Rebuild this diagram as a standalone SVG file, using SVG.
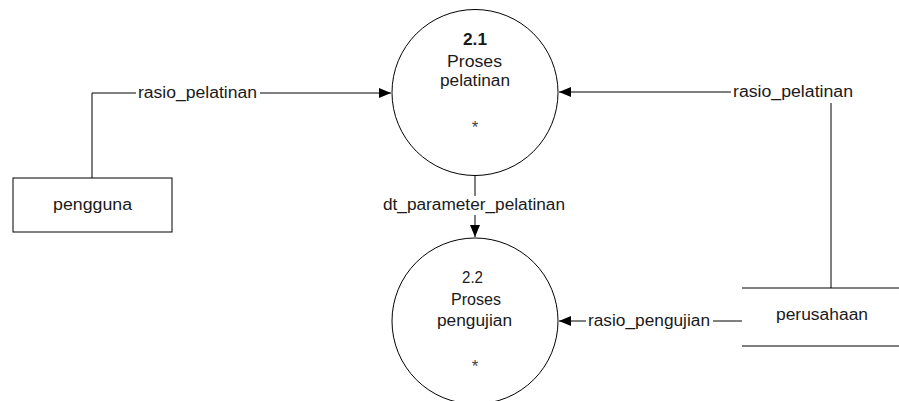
<svg xmlns="http://www.w3.org/2000/svg" width="899" height="401" viewBox="0 0 899 401">
  <style>
    .shape { fill: #ffffff; stroke: #000000; stroke-width: 1; }
    .line { fill: none; stroke: #000000; stroke-width: 1; }
    .lbl-bg { fill: #ffffff; stroke: none; }
    text { font-family: "Liberation Sans", Arial, sans-serif; font-size: 16px; fill: #1a1a1a; text-anchor: middle; }
    .star { fill: #444444; font-size: 17px; }
  </style>
  <defs>
    <marker id="arrow" markerUnits="userSpaceOnUse" markerWidth="12" markerHeight="10" refX="12" refY="5" orient="auto">
      <path d="M0,0 L12,5 L0,10 Z" fill="#000000"/>
    </marker>
  </defs>

  <rect width="899" height="401" fill="#ffffff"/>

  <!-- connectors -->
  <g id="connectors">
    <path class="line" d="M92,178 V93 H391" marker-end="url(#arrow)"/>
    <path class="line" d="M831,288 V92 H559" marker-end="url(#arrow)"/>
    <path class="line" d="M475,175 V237" marker-end="url(#arrow)"/>
    <path class="line" d="M742,321 H559" marker-end="url(#arrow)"/>

    <rect class="lbl-bg" x="136" y="84" width="124" height="18"/>
    <text x="197.5" y="98" textLength="119" lengthAdjust="spacingAndGlyphs">rasio_pelatinan</text>

    <rect class="lbl-bg" x="731" y="82" width="125" height="21"/>
    <text x="793" y="97" textLength="120" lengthAdjust="spacingAndGlyphs">rasio_pelatinan</text>

    <rect class="lbl-bg" x="381" y="196" width="187" height="19"/>
    <text x="474" y="210" textLength="182" lengthAdjust="spacingAndGlyphs">dt_parameter_pelatinan</text>

    <rect class="lbl-bg" x="586" y="312" width="127" height="18"/>
    <text x="649" y="326" textLength="122" lengthAdjust="spacingAndGlyphs">rasio_pengujian</text>
  </g>

  <!-- external entity: pengguna -->
  <g id="pengguna">
    <rect class="shape" x="13" y="178" width="159" height="54"/>
    <text x="92.5" y="210" textLength="79" lengthAdjust="spacingAndGlyphs">pengguna</text>
  </g>

  <!-- data store: perusahaan -->
  <g id="perusahaan">
    <line class="line" x1="742" y1="288" x2="899" y2="288"/>
    <line class="line" x1="742" y1="346" x2="899" y2="346"/>
    <text x="822" y="320" textLength="92" lengthAdjust="spacingAndGlyphs">perusahaan</text>
  </g>

  <!-- process 2.1 -->
  <g id="proses-2-1">
    <circle class="shape" cx="475" cy="92.5" r="83"/>
    <text x="475" y="45" font-weight="bold" textLength="24" lengthAdjust="spacingAndGlyphs">2.1</text>
    <text x="474.5" y="67" textLength="55" lengthAdjust="spacingAndGlyphs">Proses</text>
    <text x="475" y="86" textLength="70" lengthAdjust="spacingAndGlyphs">pelatinan</text>
    <text class="star" x="475" y="133">*</text>
  </g>

  <!-- process 2.2 -->
  <g id="proses-2-2">
    <circle class="shape" cx="475" cy="321" r="83"/>
    <text x="472.5" y="283" textLength="21" lengthAdjust="spacingAndGlyphs">2.2</text>
    <text x="476" y="305" textLength="50" lengthAdjust="spacingAndGlyphs">Proses</text>
    <text x="474.5" y="326" textLength="75" lengthAdjust="spacingAndGlyphs">pengujian</text>
    <text class="star" x="475" y="372">*</text>
  </g>
</svg>
